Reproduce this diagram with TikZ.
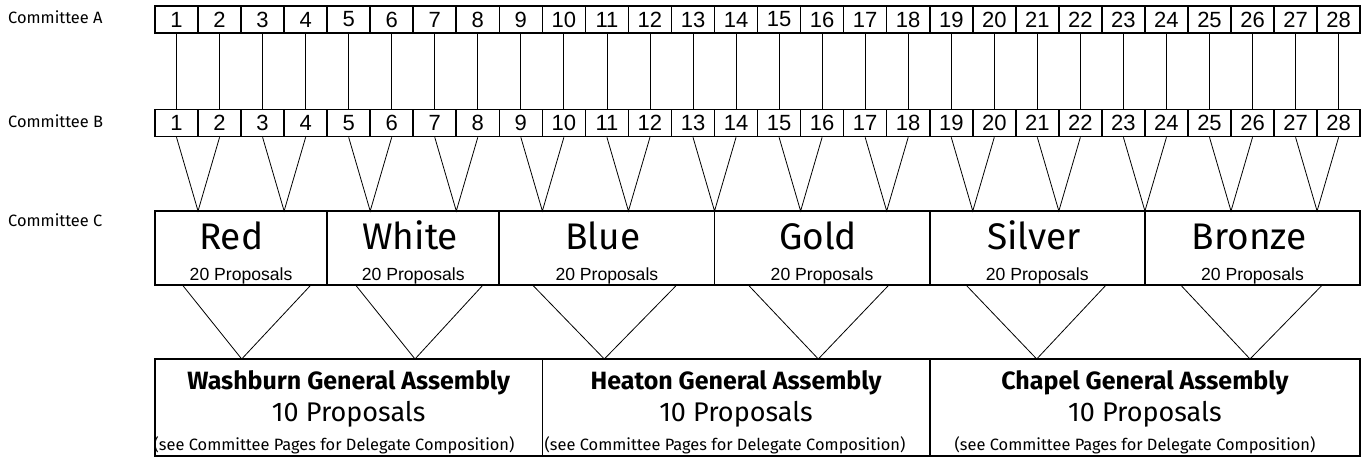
\documentclass[tikz,border=0pt]{standalone}
\usepackage{fontspec}
\setmainfont{Fira Sans}
\newfontfamily\arialfont{Liberation Sans}

\tikzset{
  rowlabel/.style={anchor=base west, inner sep=0pt, font=\fontsize{16.4}{16.4}\selectfont},
  numbox/.style={draw, line width=1.6pt, minimum width=43.04pt, minimum height=27pt, inner sep=0pt, font=\arialfont\fontsize{22}{22}\selectfont},
  link/.style={line width=0.8pt},
  cbox/.style={draw, line width=1.7pt, minimum height=74pt, inner sep=0pt},
  cname/.style={anchor=base, inner sep=0pt, font=\fontsize{37}{37}\selectfont},
  cprop/.style={anchor=base, inner sep=0pt, font=\arialfont\fontsize{17.6}{17.6}\selectfont},
  dbox/.style={draw, line width=1.7pt, minimum height=97pt, inner sep=0pt},
  dtitle/.style={anchor=base, inner sep=0pt, font=\bfseries\fontsize{25}{25}\selectfont},
  dcount/.style={anchor=base, inner sep=0pt, font=\fontsize{27}{27}\selectfont},
  dnote/.style={anchor=base, inner sep=0pt, font=\fontsize{16.4}{16.4}\selectfont}
}

\begin{document}
\begin{tikzpicture}[x=1pt, y=-1pt]
  \useasboundingbox (0,0) rectangle (1364,460);

  % Row labels
  \node[rowlabel] (labA) at (8,24) {Committee A};
  \node[rowlabel] (labB) at (8,127) {Committee B};
  \node[rowlabel] (labC) at (8,226.5) {Committee C};

  % Committee A and B seats
  \foreach \i in {1,...,28} {
    \node[numbox] (a\i) at ({155+(\i-0.5)*43.04},19.5) {\i};
    \node[numbox] (b\i) at ({155+(\i-0.5)*43.04},123) {\i};
    \draw[link] (a\i) -- (b\i);
  }

  % Pairs of B seats join at Committee C
  \foreach \j in {1,...,14} {
    \pgfmathtruncatemacro{\l}{2*\j-1}
    \pgfmathtruncatemacro{\r}{2*\j}
    \coordinate (v\j) at ({155+(2*\j-1)*43.04},211);
    \draw[link] (b\l.south) -- (v\j) -- (b\r.south);
  }

  % Committee C
  \foreach \n/\x/\w/\t/\dx in {red/241.1/172.2/Red/-10, white/413.25/172.1/White/-3,
      blue/606.9/215.2/Blue/-4, gold/822.1/215.2/Gold/-4,
      silver/1037.3/215.2/Silver/-3.5, bronze/1252.45/215.1/Bronze/-3} {
    \node[cbox, minimum width=\w pt] (\n) at (\x,248) {};
    \node[cname] (\n-name) at ({\x+\dx},249) {\t};
    \node[cprop] (\n-prop) at (\x,280.5) {20 Proposals};
  }

  % General Assemblies
  \foreach \n/\x/\w/\t/\nx in {wash/348.7/387.4/Washburn/334,
      heat/736.05/387.3/Heaton/725, chap/1144.85/430.3/Chapel/1135} {
    \node[dbox, minimum width=\w pt] (\n) at (\x,407.5) {};
    \node[dtitle] (\n-title) at (\x,389) {\t\ General Assembly};
    \node[dcount] (\n-count) at (\x,421.5) {10 Proposals};
    \node[dnote] (\n-note) at (\nx,450) {(see Committee Pages for Delegate Composition)};
  }

  % Committee C into General Assemblies
  \foreach \c/\d/\ax/\dl/\dr in {red/wash/241.7/-58/69, white/wash/415/-57/69,
      blue/heat/604.3/-73.5/69, gold/heat/818.3/-73/66,
      silver/chap/1036.7/-70.5/68, bronze/chap/1250/-71/69} {
    \coordinate (\c-to) at (\ax,359);
    \draw[link] ([xshift=\dl pt]\c.south) -- (\c-to) -- ([xshift=\dr pt]\c.south);
  }
\end{tikzpicture}
\end{document}
